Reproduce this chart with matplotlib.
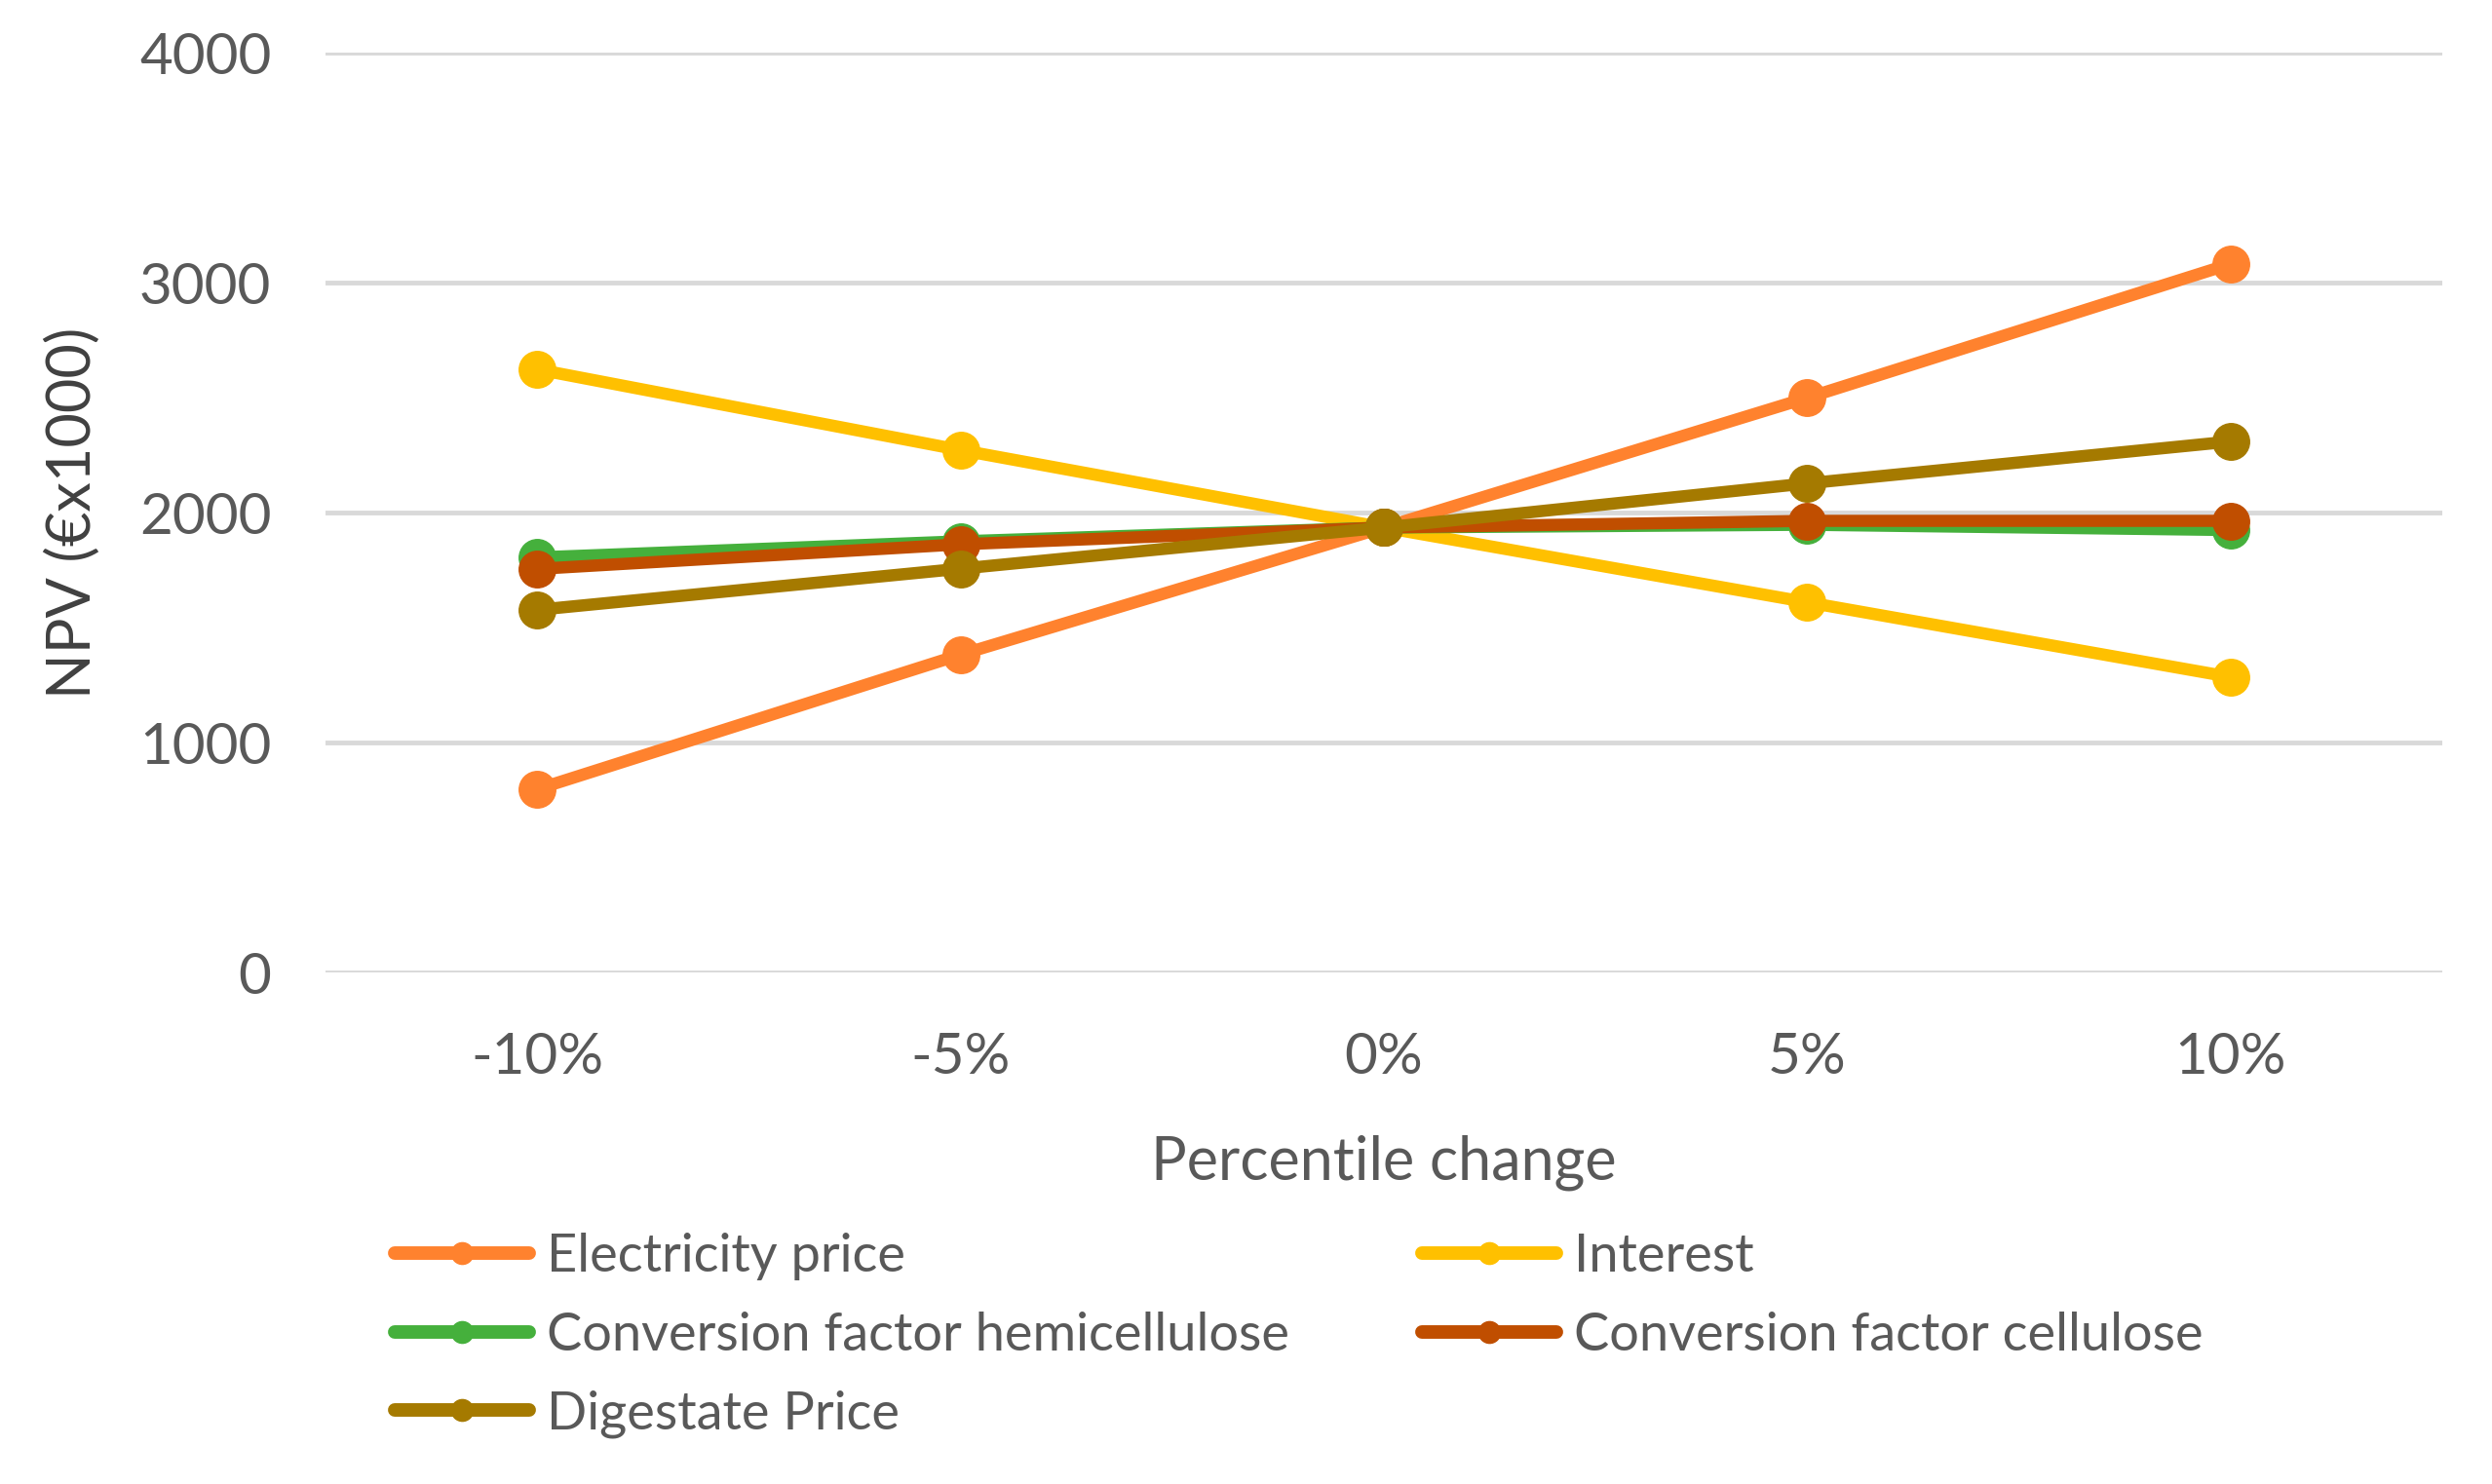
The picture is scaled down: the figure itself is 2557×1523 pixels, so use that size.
import matplotlib.pyplot as plt
from matplotlib.lines import Line2D

# Dados do gráfico
categorias = ['-10%', '-5%', '0%', '5%', '10%']
electricity = [797, 1382, 1935, 2499, 3081]
interest = [2623, 2272, 1935, 1610, 1285]
hemicellulose = [1805, 1875, 1935, 1947, 1924]
cellulose = [1755, 1862, 1935, 1964, 1964]
digestate = [1577, 1756, 1935, 2127, 2309]

nomes = ['Electricity price', 'Interest', 'Conversion factor hemicellulose',
         'Conversion factor cellulose', 'Digestate Price']
cores = ['#FF822E', '#FFC000', '#45B03C', '#C04E00', '#A57A00']
series = [electricity, interest, hemicellulose, cellulose, digestate]

plt.rcParams['font.family'] = ['Lato', 'DejaVu Sans']

fig = plt.figure(figsize=(25.57, 15.23), dpi=100)
ax = fig.add_axes([0.1306, 0.3447, 0.9800 - 0.1306, 0.9645 - 0.3447])

x = list(range(len(categorias)))
for valores, cor, nome in zip(series, cores, nomes):
    ax.plot(x, valores, color=cor, lw=9, marker='o', markersize=27,
            solid_capstyle='round', label=nome, zorder=3)

ax.set_xlim(-0.5, 4.5)
ax.set_ylim(0, 4000)
ax.set_yticks([0, 1000, 2000, 3000, 4000])
ax.set_xticks(x)
ax.set_xticklabels(categorias)
ax.yaxis.grid(True, color='#D9D9D9', lw=3.5, zorder=0)
ax.set_axisbelow(True)
for s in ax.spines.values():
    s.set_visible(False)
ax.tick_params(axis='both', length=0, labelsize=42, labelcolor='#595959')
ax.tick_params(axis='y', pad=40)
ax.tick_params(axis='x', pad=44)

ax.set_xlabel('Percentile change', fontsize=44, color='#595959', labelpad=38)
ax.set_ylabel('NPV (€x1000)', fontsize=44, color='#404040', labelpad=28)

# Legenda em duas colunas (ordem por linhas como no original)
ordem = [0, 2, 4, 1, 3]
handles = [Line2D([0], [0], color=cores[i], lw=10, marker='o', markersize=16,
                  solid_capstyle='round') for i in ordem]
labels = [nomes[i] for i in ordem]
fig.legend(handles, labels, loc='upper left', bbox_to_anchor=(0.150, 0.1835),
           ncol=2, frameon=False, fontsize=39, labelcolor='#595959',
           handlelength=2.55, handletextpad=0.33, columnspacing=2.5,
           labelspacing=0.58, borderaxespad=0)

fig.savefig('out.png', dpi=100)
